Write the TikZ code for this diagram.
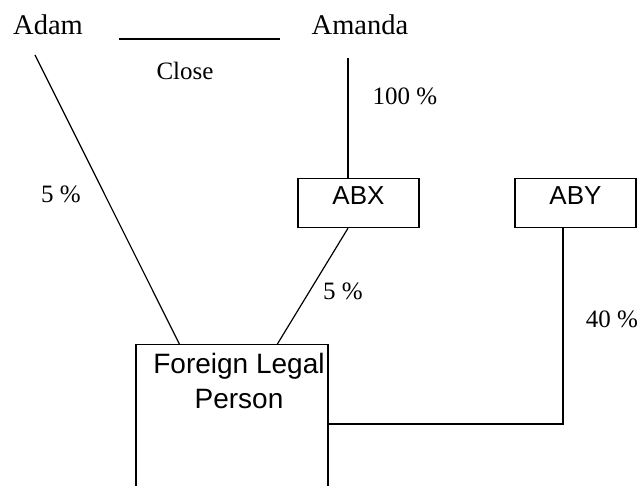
\documentclass[tikz,border=0pt]{standalone}
\usepackage{fontspec}
\setmainfont{Liberation Serif}
\newfontfamily\arialfont{Liberation Sans}

\begin{document}
\begin{tikzpicture}[x=1pt,y=-1pt,line width=1.2pt,
    person/.style={font=\fontsize{28.5}{34}\selectfont, anchor=base},
    share/.style={font=\fontsize{25}{30}\selectfont, anchor=base},
    firm/.style={draw, font=\arialfont\fontsize{26}{32}\selectfont, minimum width=121pt,
        inner ysep=7pt, text height=19pt, text depth=16pt, anchor=north}]
    \useasboundingbox (0,0) rectangle (640,486);
    % people
    \node[person] at(48,35)(adam){Adam};
    \node[person] at(360,35)(amanda){Amanda};
    \coordinate (closel) at (119,39);
    \coordinate (closer) at (280,39);
    \draw[line width=1.8pt] (closel) -- (closer);
    \node[share] at(185,80)(close){Close};
    \coordinate (adamfoot) at (35,55);
    \coordinate (amandafoot) at (348,58);
    % companies
    \node[firm] at(358.5,178)(abx){ABX};
    \node[firm] at(575.5,178)(aby){ABY};
    \node[draw, minimum width=192pt, minimum height=170pt, anchor=north] at(232,344)(flp){};
    \node[font=\arialfont\fontsize{28}{35}\selectfont, align=center, anchor=north, inner sep=0pt]
        at(239,353)(flptext){Foreign Legal\\Person};
    % holdings
    \draw (adamfoot) -- ([xshift=44pt]flp.north west);
    \draw (amandafoot) -- (amandafoot |- abx.north);
    \draw ([xshift=-10.5pt]abx.south) -- ([xshift=142pt]flp.north west);
    \draw ([xshift=-12.5pt]aby.south) |- ([yshift=-80pt]flp.north east);
    \node[share] at(61,203)(adamshare){5 \%};
    \node[share] at(405,105)(amandashare){100 \%};
    \node[share] at(343,300)(abxshare){5 \%};
    \node[share] at(612,327)(abyshare){40 \%};
\end{tikzpicture}
\end{document}
